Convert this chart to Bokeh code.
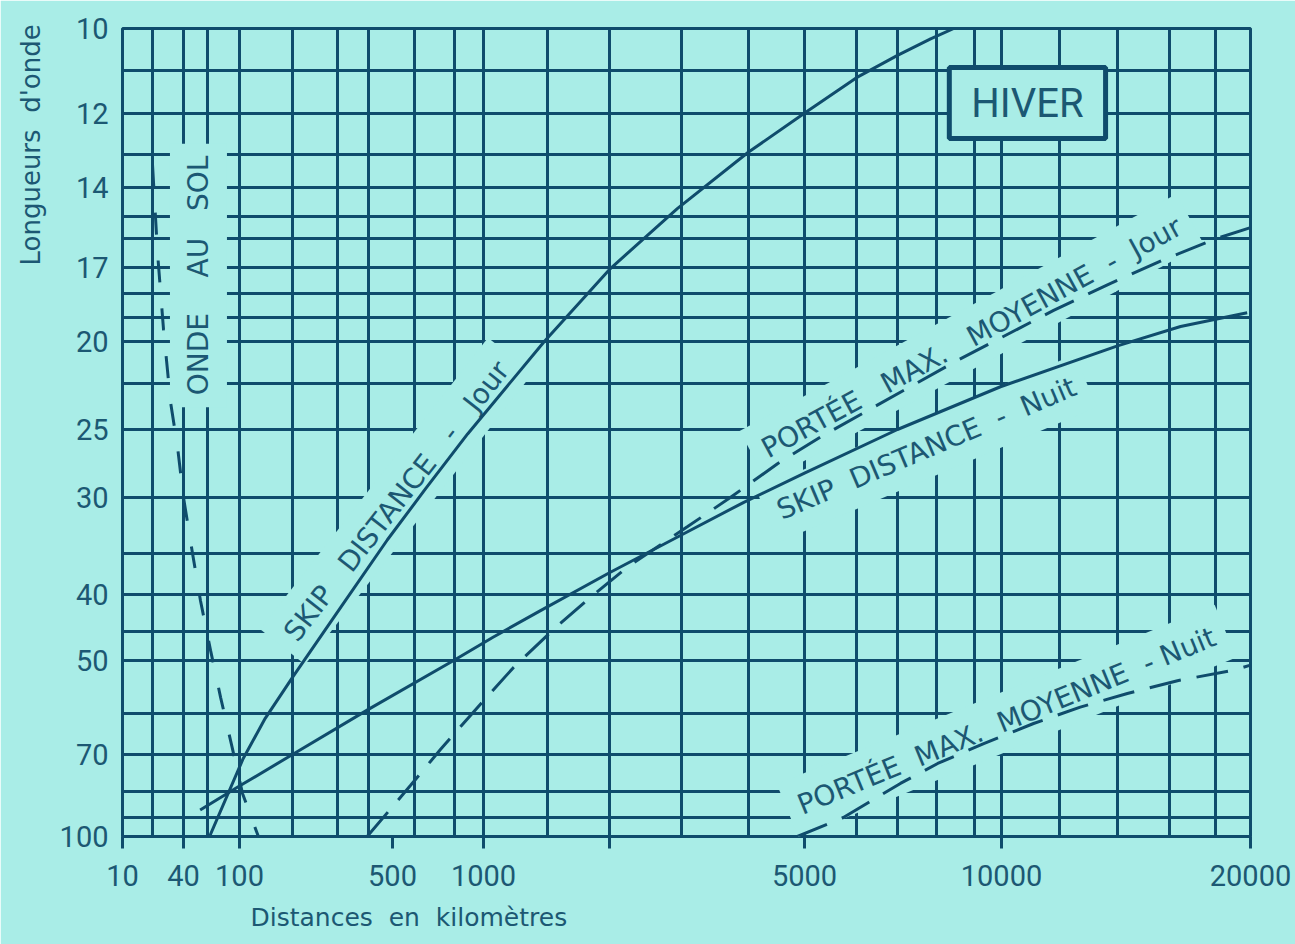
import numpy as np
from bokeh.plotting import figure
from bokeh.models import Range1d, FixedTicker, Label, Title
from bokeh.embed import file_html
from bokeh.resources import INLINE

# ---- hand-drawn, non-uniform scales of the original chart (value -> position along the axis)
X_SCALE_KM = [10, 20, 40, 60, 100, 200, 300, 400, 500, 600, 800, 1000, 1500, 2000, 3000,
              4000, 5000, 6000, 7000, 8000, 9000, 10000, 12000, 14000, 16000, 18000, 20000]
X_SCALE_POS = [0, 30, 61, 85, 117, 170, 215, 246, 270, 292, 332, 361, 425, 487, 559,
               626, 682, 734, 775, 814, 852, 879, 937, 995, 1047, 1093, 1128]
Y_SCALE_M = [10, 11, 12, 13, 14, 15, 16, 17, 18, 19, 20, 22, 25, 30, 35, 40, 45, 50, 60, 70, 80, 90, 100]
Y_SCALE_POS = [808, 766, 723, 682, 649, 620, 598, 569, 543, 519, 495, 453, 407, 339, 283,
               242, 205, 176, 123, 82, 45, 19, 0]

# ---- ticks and grid
X_TICKS = [10, 40, 100, 500, 1000, 2000, 5000, 10000, 20000]
X_TICK_LABELS = ["10", "40", "100", "500", "1000", "", "5000", "10000", "20000"]
Y_TICKS = [10, 12, 14, 17, 20, 25, 30, 40, 50, 70, 100]
Y_TICK_LABELS = ["10", "12", "14", "17", "20", "25", "30", "40", "50", "70", "100"]
X_GRID_KM = [20, 40, 60, 100, 200, 300, 400, 600, 800, 1000, 1500, 2000, 3000, 4000, 5000,
             6000, 7000, 8000, 9000, 10000, 12000, 14000, 16000, 18000]
Y_GRID_M = [11, 12, 13, 14, 15, 16, 17, 18, 19, 20, 22, 25, 30, 35, 40, 45, 50, 60, 70, 80, 90]

# ---- curves (distance km, wavelength m)
skip_jour_km = [62, 105, 140, 200, 310, 477, 650, 885, 1470, 2010, 2930, 3990, 4990, 6000, 7000, 7840, 8440]
skip_jour_m = [100, 71, 61.1, 53, 41.6, 33.7, 29.3, 25.3, 20, 17.04, 14.72, 12.95, 12, 11.16, 10.63, 10.24, 10]

skip_nuit_km = [53, 101, 200, 398, 795, 1065, 1435, 1995, 2950, 3920, 5000, 7000, 9960, 14000, 16460, 19800]
skip_nuit_m = [87, 78.3, 70, 59.2, 50, 45.9, 42.1, 37.3, 33.4, 30.4, 28.1, 25, 22.2, 20.2, 19.37, 18.8]

portee_jour_km = [395, 580, 723, 980, 1210, 1570, 1860, 2210, 3080, 3700, 4490, 5290,
                  8510, 11780, 13650, 15830, 18050, 20000]
portee_jour_m = [100, 78.3, 68.7, 58, 51.2, 44.2, 40, 36.6, 32.5, 30, 27.4, 25.5,
                 20.9, 18.7, 17.65, 16.7, 16.0, 15.5]

portee_nuit_km = [4860, 5730, 7070, 8030, 9330, 11060, 12680, 14360, 16330, 19000, 20000]
portee_nuit_m = [100, 90, 77.7, 72.3, 67.2, 62.3, 58.7, 56, 53.6, 51.7, 50.8]

onde_sol_km = [20, 22.4, 25.6, 30, 35, 40, 46.6, 53.3, 63, 74, 89, 104, 128]
onde_sol_m = [13.3, 16.5, 19.5, 23.2, 26.2, 30, 35, 40.8, 48.2, 56.8, 68.2, 80.7, 100]

BG = "#a9ede7"
INK = "#0f4c6c"
TXT = "#1c5873"
NB = "\u00a0"


def to_x(km):
    return np.interp(np.log10(km), np.log10(X_SCALE_KM), X_SCALE_POS)


def to_y(m):
    return np.interp(np.log10(m), np.log10(Y_SCALE_M), Y_SCALE_POS)


def gap(n):
    # a word gap n spaces wide (non-breaking spaces are not collapsed in SVG)
    return " " + NB * (n - 1)


p = figure(width=1295, height=944, x_range=Range1d(0, 1128), y_range=Range1d(0, 808),
           output_backend="svg", toolbar_location=None,
           min_border_left=122, min_border_right=45, min_border_top=28, min_border_bottom=108,
           background_fill_color=BG, border_fill_color=BG,
           outline_line_color=INK, outline_line_width=3)

# axes
xt = [float(v) for v in to_x(X_TICKS)]
yt = [float(v) for v in to_y(Y_TICKS)]
p.xaxis.ticker = FixedTicker(ticks=xt)
p.yaxis.ticker = FixedTicker(ticks=yt)
p.xaxis.major_label_overrides = {t: s for t, s in zip(xt, X_TICK_LABELS)}
p.yaxis.major_label_overrides = {t: s for t, s in zip(yt, Y_TICK_LABELS)}
for ax in (p.xaxis, p.yaxis):
    ax.axis_line_color = None
    ax.minor_tick_line_color = None
    ax.major_tick_line_color = INK
    ax.major_tick_line_width = 3
    ax.major_tick_in = 0
    ax.major_label_text_font = "Roboto"
    ax.major_label_text_font_size = "29px"
    ax.major_label_text_color = TXT
p.xaxis.major_tick_out = 12
p.xaxis.major_label_standoff = 16
p.yaxis.major_tick_out = 0
p.yaxis.major_label_standoff = 14

# grid
p.xgrid.ticker = FixedTicker(ticks=[float(v) for v in to_x(X_GRID_KM)])
p.ygrid.ticker = FixedTicker(ticks=[float(v) for v in to_y(Y_GRID_M)])
for g in (p.xgrid, p.ygrid):
    g.grid_line_color = INK
    g.grid_line_width = 3
    g.grid_line_alpha = 1.0

# label masks / texts (drawn under the curves, over the grid)
labels = [
    ("ONDE" + gap(4) + "AU" + gap(3) + "SOL", 51.5, 17.3, 90, 28),
    ("SKIP" + gap(3) + "DISTANCE" + gap(3) + "-" + gap(3) + "Jour", 517, 30.3, 52, 28),
    ("PORTÉE" + gap(3) + "MAX." + gap(3) + "MOYENNE" + gap(2) + "-" + gap(2) + "Jour", 8920, 19.83, 28.5, 28),
    ("SKIP" + gap(2) + "DISTANCE" + gap(2) + "-" + gap(2) + "Nuit", 7730, 26.3, 23, 28),
    ("PORTÉE" + gap(2) + "MAX." + gap(2) + "MOYENNE" + gap(2) + "-" + gap(1) + "Nuit", 10160, 61.7, 22.3, 28),
]
for text, km, m, ang, size in labels:
    lab = Label(x=float(to_x(km)), y=float(to_y(m)), text=text, angle=np.radians(ang),
                text_align="center", text_baseline="middle",
                text_font="DejaVu Sans", text_font_size=f"{size}px", text_color=TXT,
                background_fill_color=BG, background_fill_alpha=1.0, padding=12,
                level="underlay")
    p.add_layout(lab)

hiver = Label(x=float(to_x(10850)), y=float(to_y(11.75)), text="HIVER",
              text_align="center", text_baseline="middle",
              text_font="Roboto", text_font_size="40px", text_color=TXT,
              background_fill_color=BG, background_fill_alpha=1.0,
              border_line_color=INK, border_line_width=5,
              padding=dict(left=22, right=22, top=12, bottom=12), level="underlay")
p.add_layout(hiver)

# curves
p.line(to_x(skip_jour_km), to_y(skip_jour_m), line_color=INK, line_width=3)
p.line(to_x(skip_nuit_km), to_y(skip_nuit_m), line_color=INK, line_width=3)
p.line(to_x(portee_jour_km), to_y(portee_jour_m), line_color=INK, line_width=3, line_dash="32 16")
p.line(to_x(portee_nuit_km), to_y(portee_nuit_m), line_color=INK, line_width=3, line_dash="32 16")
p.line(to_x(onde_sol_km), to_y(onde_sol_m), line_color=INK, line_width=3, line_dash="22 26")

# axis titles
p.add_layout(Title(text="Distances" + gap(2) + "en" + gap(2) + "kilomètres", align="left", offset=128,
                   text_font="DejaVu Sans", text_font_size="25px", text_font_style="normal",
                   text_color=TXT, standoff=25), "below")
p.add_layout(Title(text="Longueurs" + gap(2) + "d'onde", align="left", offset=571,
                   text_font="DejaVu Sans", text_font_size="26px", text_font_style="normal",
                   text_color=TXT, standoff=22), "left")

open("out.html", "w").write(file_html(p, INLINE))
